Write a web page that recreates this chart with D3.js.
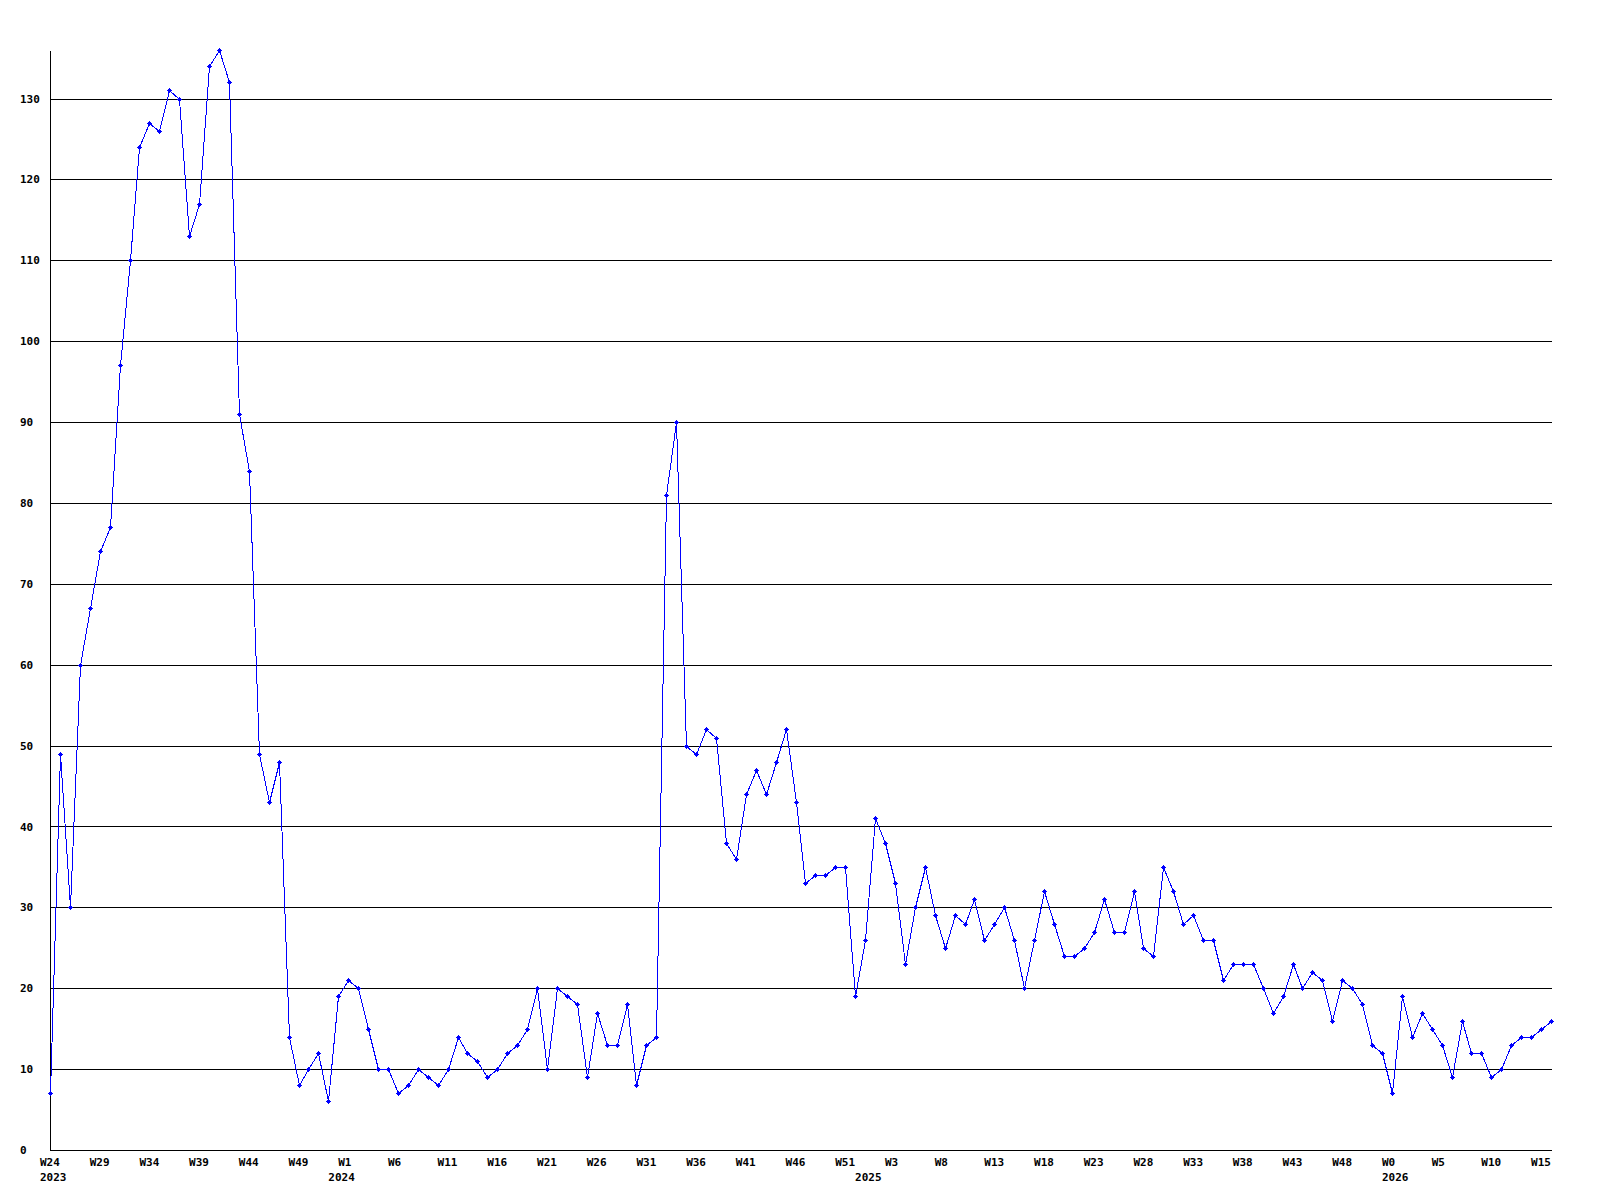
<!DOCTYPE html>
<html>
<head>
<meta charset="utf-8">
<script src="https://cdn.jsdelivr.net/npm/d3@7"></script>
<style>
  body { margin: 0; background: #fff; }
  text { font-family: "DejaVu Sans Mono", monospace; font-weight: bold; font-size: 11px; fill: #000; }
</style>
</head>
<body>
<div id="chart"></div>
<script>
// weekly counts, W24 2023 -> W16 2026
const values = [
    7, 49, 30, 60, 67, 74, 77, 97, 110, 124,
    127, 126, 131, 130, 113, 117, 134, 136, 132, 91,
    84, 49, 43, 48, 14, 8, 10, 12, 6, 19,
    21, 20, 15, 10, 10, 7, 8, 10, 9, 8,
    10, 14, 12, 11, 9, 10, 12, 13, 15, 20,
    10, 20, 19, 18, 9, 17, 13, 13, 18, 8,
    13, 14, 81, 90, 50, 49, 52, 51, 38, 36,
    44, 47, 44, 48, 52, 43, 33, 34, 34, 35,
    35, 19, 26, 41, 38, 33, 23, 30, 35, 29,
    25, 29, 28, 31, 26, 28, 30, 26, 20, 26,
    32, 28, 24, 24, 25, 27, 31, 27, 27, 32,
    25, 24, 35, 32, 28, 29, 26, 26, 21, 23,
    23, 23, 20, 17, 19, 23, 20, 22, 21, 16,
    21, 20, 18, 13, 12, 7, 19, 14, 17, 15,
    13, 9, 16, 12, 12, 9, 10, 13, 14, 14,
    15, 16
];

// one label every 5 weeks
const weekTicks = [
    "W24", "W29", "W34", "W39", "W44", "W49", "W1", "W6", "W11", "W16",
    "W21", "W26", "W31", "W36", "W41", "W46", "W51", "W3", "W8", "W13",
    "W18", "W23", "W28", "W33", "W38", "W43", "W48", "W0", "W5", "W10", "W15"
];
const tickEvery = 5;

const years = ["2023", "2024", "2025", "2026"];
const yearStart = [0, 29, 82, 135]; // week index where each year begins

const yTicks = d3.range(0, 140, 10);
const yMax = 136;

const width = 1600;
const height = 1200;
const margin = {top: 50, right: 49, bottom: 50, left: 50};

const svg = d3.select('#chart')
    .append('svg')
    .attr('width', width)
    .attr('height', height);

const x = d3.scaleLinear()
    .domain([0, values.length - 1])
    .range([margin.left, width - margin.right]);

const y = d3.scaleLinear()
    .domain([0, yMax])
    .range([height - margin.bottom, margin.top]);

// snap to pixel centres so 1px lines stay sharp
const px = v => Math.round(v) + 0.5;

// horizontal grid
svg.append('g')
    .attr('stroke', '#000')
    .attr('shape-rendering', 'crispEdges')
    .selectAll('line')
    .data(yTicks)
    .join('line')
        .attr('x1', px(x(0)))
        .attr('x2', px(x(values.length - 1)))
        .attr('y1', d => px(y(d)))
        .attr('y2', d => px(y(d)));

// y axis line
svg.append('line')
    .attr('x1', px(x(0))).attr('x2', px(x(0)))
    .attr('y1', px(y(yMax))).attr('y2', px(y(0)))
    .attr('stroke', '#000')
    .attr('shape-rendering', 'crispEdges');

// y labels
svg.append('g')
    .attr('transform', `translate(${margin.left}, 0)`)
    .call(d3.axisLeft(y).tickValues(yTicks).tickSize(0))
    .call(g => g.select('.domain').remove())
    .call(g => g.selectAll('text')
        .attr('text-anchor', 'start')
        .attr('x', -30)
        .attr('font-family', null)
        .attr('font-size', null));

// week labels
svg.append('g')
    .attr('transform', `translate(0, ${height - margin.bottom})`)
    .call(d3.axisBottom(x)
        .tickValues(weekTicks.map((d, i) => i * tickEvery))
        .tickFormat((d, i) => weekTicks[i])
        .tickSize(0)
        .tickPadding(8))
    .call(g => g.select('.domain').remove())
    .call(g => g.selectAll('text')
        .attr('text-anchor', 'start')
        .attr('x', -10.5));

// year labels
svg.append('g')
    .attr('transform', `translate(0, ${height - margin.bottom})`)
    .call(d3.axisBottom(x)
        .tickValues(yearStart)
        .tickFormat((d, i) => years[i])
        .tickSize(0)
        .tickPadding(23))
    .call(g => g.select('.domain').remove())
    .call(g => g.selectAll('text')
        .attr('text-anchor', 'start')
        .attr('x', -10.5));

svg.selectAll('.tick text')
    .attr('font-family', null)
    .attr('font-size', null);
svg.selectAll('g[font-family]')
    .attr('font-family', null)
    .attr('font-size', null);

// the series line
const line = d3.line()
    .x((d, i) => px(x(i)))
    .y(d => px(y(d)));

svg.append('path')
    .datum(values)
    .attr('fill', 'none')
    .attr('stroke', '#0000ff')
    .attr('stroke-width', 1)
    .attr('shape-rendering', 'crispEdges')
    .attr('d', line);

// little cross markers
const marker = 'M-2.5,-0.5H2.5V0.5H-2.5Z M-0.5,-2.5H0.5V2.5H-0.5Z M-1.5,-1.5H1.5V1.5H-1.5Z';

svg.append('g')
    .attr('fill', '#0000ff')
    .attr('shape-rendering', 'crispEdges')
    .selectAll('path')
    .data(values)
    .join('path')
        .attr('transform', (d, i) => `translate(${px(x(i))}, ${px(y(d))})`)
        .attr('d', marker);
</script>
</body>
</html>
